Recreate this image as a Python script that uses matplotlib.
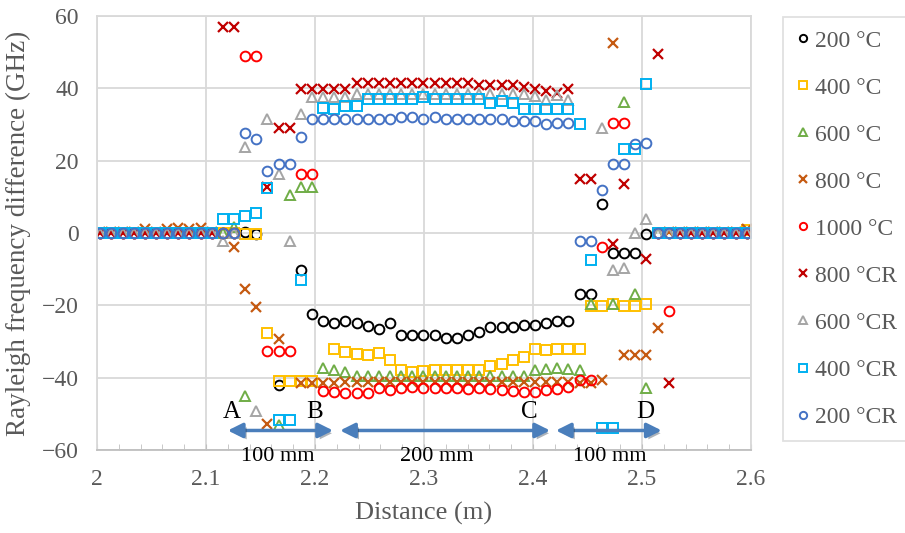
import numpy as np
import matplotlib
matplotlib.use("Agg")
import matplotlib.pyplot as plt
import matplotlib.patheffects as pe
from matplotlib.patches import FancyArrowPatch
from matplotlib.ticker import MultipleLocator

plt.rcParams['font.family'] = ['Liberation Serif', 'DejaVu Serif']

nan = np.nan

# sensing positions along the fibre (m), one sample every ~10.2 mm
distance = np.linspace(2.003, 2.596, 59)

t200 = [0]*11 + [0, 0, 0.3, -0.3, nan, -42.1, nan, -10.3, -22.5, -24.4, -24.9,
                 -24.4, -24.9, -25.8, -26.5, -25.0, -28.3, -28.3, -28.3, -28.3, -28.9,
                 -28.9, -28.3, -27.4, -26.0, -26.0, -26.0, -25.5, -25.3, -24.9, -24.4,
                 -24.4, -17.0, -17.0, 7.9, -5.5, -5.5, -5.5, -0.4] + [0]*9
t400 = [0]*13 + [-0.3, -0.3, -27.6, -40.9, -40.9, -40.9, -40.9, nan, -32.0, -32.9,
                 -33.4, -33.8, -33.2, -35.2, -38.0, -38.4, -38.2, -37.8, -37.8, -37.8,
                 -37.8, -37.8, -36.9, -36.3, -35.2, -34.3, -32.0, -32.4, -32.0, -32.0,
                 -32.0, -20.2, -20.2, -19.5, -20.2, -20.2, -19.5] + [0]*8 + [0.7]
t600 = [0]*12 + [1.7, -45.2, nan, nan, -53.2, 10.4, 12.6, 12.6, -37.2, -38.0, -38.4,
                 -39.4, -39.6, -39.4, -39.6, -39.4, -39.4, -39.4, -39.4, -39.4, -39.4,
                 -39.4, -39.6, -39.4, -39.4, -39.6, -39.6, -37.8, -37.6, -37.4, -37.6,
                 -37.8, -19.7, nan, -19.5, 36.2, -17.0, -42.9] + [0]*9
t800 = [0.3, 0.3, 0.3, 0.3, 1.2, 0.3, 1.2, 1.5, 1.2, 1.5, 0.3,
        nan, -4.0, -15.5, -20.5, -52.9, -29.4, nan, -41.5, -41.5, -41.5, -41.5] \
    + [-41.2]*21 + [-41.5, -41.5, -40.6, 52.6, -33.8, -33.8, -33.8, -26.2] + [0.3]*7 + [1.0]
t1000 = [0]*13 + [49.0, 49.0, -32.6, -32.6, -32.6, 16.4, 16.4, -43.8, -44.0, -44.2,
                  -44.2, -44.2, -42.8, -43.3, -42.8, -42.6, -42.8, -42.8, -42.8, -42.8,
                  -43.0, -42.8, -43.0, -43.5, -43.7, -44.0, -44.0, -43.3, -43.0, -42.6,
                  -40.7, -40.7, -4.0, 30.5, 30.5, nan, nan, 0, -21.6] + [0]*7
r800 = [0]*11 + [57.0, 57.0, nan, nan, 12.7, 28.9, 28.9] + [39.9]*5 + [41.6]*11 \
    + [40.8]*4 + [40.4, 39.9, 39.3, 38.6, 39.9, 15.0, 15.0, nan, -3.1, 13.5, nan,
                  -7.1, 49.6, -41.6] + [0]*7
r600 = [0]*11 + [-2.2, 0, 23.8, -49.2, 31.4, 16.4, -2.2, 33.0, 37.5, 37.5, 37.5, 37.6] \
    + [38.3]*16 + [37.8, 36.9, 38.1, 36.9, nan, nan, 28.9, -10.1, -9.6, 0.0, 4.0] + [0]*9
r400 = [0]*11 + [4.0, 4.0, 4.6, 5.5, 12.5, -51.8, -51.8, -12.9, nan, 34.6, 34.4, 35.0,
                 35.0] + [37.0]*5 + [37.6] + [37.0]*5 + [35.9, 36.5, 35.9] + [34.4]*5 \
    + [30.1, -7.6, -53.8, -53.8, 23.1, 23.1, 41.1] + [0]*9
r200 = [0]*13 + [27.7, 26.1, 17.1, 19.0, 19.0, 26.6] + [31.5]*8 + [32.1, 32.1, 31.5, 32.1] \
    + [31.5]*6 + [31.0, 31.0, 31.0, 30.1, 30.5, 30.5, -2.2, -2.2, 12.0, 19.0, 19.0,
                  24.5, 24.8] + [0]*9

labels = ['200 °C', '400 °C', '600 °C', '800 °C', '1000 °C',
          '800 °CR', '600 °CR', '400 °CR', '200 °CR']
series = [t200, t400, t600, t800, t1000, r800, r600, r400, r200]
markers = ['o', 's', '^', 'x', 'o', 'x', '^', 's', 'o']
colors = ['#000000', '#FFC000', '#70AD47', '#C55A11', '#FF0000',
          '#C00000', '#A5A5A5', '#00B0F0', '#4472C4']

# segment arrows: (start, end) in m
segments = [(2.120, 2.2165), (2.223, 2.4156), (2.421, 2.518)]
seg_labels = ['100 mm', '200 mm', '100 mm']
seg_label_x = [2.166, 2.312, 2.470]
points = ['A', 'B', 'C', 'D']
point_x = [2.124, 2.200, 2.397, 2.503]

grey = '#595959'

fig = plt.figure(figsize=(9.05, 5.33), dpi=100)
ax = fig.add_axes([0.1072, 0.1557, 0.7227, 0.8143])

for y, lab, m, c in zip(series, labels, markers, colors):
    y = np.array(y, dtype=float)
    if m == 'x':
        ax.plot(distance, y, ls='none', marker='x', ms=7, mew=1.6, color=c, label=lab)
    else:
        ax.plot(distance, y, ls='none', marker=m, ms=7, mew=1.4, mfc='none', mec=c, label=lab)

ax.set_xlim(2.0, 2.6)
ax.set_ylim(-60, 60)
ax.xaxis.set_major_locator(MultipleLocator(0.1))
ax.xaxis.set_minor_locator(MultipleLocator(0.02))
ax.yaxis.set_major_locator(MultipleLocator(20))
ax.xaxis.set_major_formatter(plt.FuncFormatter(lambda v, p: ('%.1f' % v).rstrip('0').rstrip('.')))

ax.grid(True, which='major', color='#d9d9d9', lw=1.3)
ax.set_axisbelow(True)
for s in ['top', 'right', 'left']:
    ax.spines[s].set_color('#d9d9d9')
    ax.spines[s].set_linewidth(1.3)
ax.spines['bottom'].set_color('#bfbfbf')
ax.spines['bottom'].set_linewidth(1.3)

ax.tick_params(axis='x', which='both', direction='in', length=4, color='#bfbfbf',
               labelsize=17, labelcolor=grey, pad=14)
ax.tick_params(axis='y', length=0, labelsize=17, labelcolor=grey, pad=13)

ax.set_xlabel('Distance (m)', fontsize=19, color=grey, labelpad=8)
ax.set_ylabel('Rayleigh frequency difference (GHz)', fontsize=19.5, color=grey, labelpad=8)

# double-headed arrows marking the heated sections
for (x0, x1) in segments:
    arr = FancyArrowPatch((x0, -54.6), (x1, -54.6), arrowstyle='<|-|>',
                          mutation_scale=22, lw=2.5, color='#4A7EBB',
                          shrinkA=0, shrinkB=0, zorder=5,
                          path_effects=[pe.SimplePatchShadow(offset=(2, -2), alpha=0.35),
                                        pe.Normal()])
    ax.add_patch(arr)

for lab, xx in zip(seg_labels, seg_label_x):
    ax.text(xx, -61.9, lab, ha='center', va='center', fontsize=16, color='black',
            clip_on=False)
for lab, xx in zip(points, point_x):
    ax.text(xx, -49.5, lab, ha='center', va='center', fontsize=18, color='black')

leg = fig.legend(loc='upper left', bbox_to_anchor=(0.865, 0.968), borderaxespad=0,
                 fontsize=17, frameon=True, fancybox=False, edgecolor='#d9d9d9',
                 labelspacing=1.08, handlelength=0.6, handletextpad=0.2, borderpad=0.55,
                 markerscale=0.75, labelcolor=grey)
leg.get_frame().set_linewidth(1.3)

fig.savefig('out.png', dpi=100)
